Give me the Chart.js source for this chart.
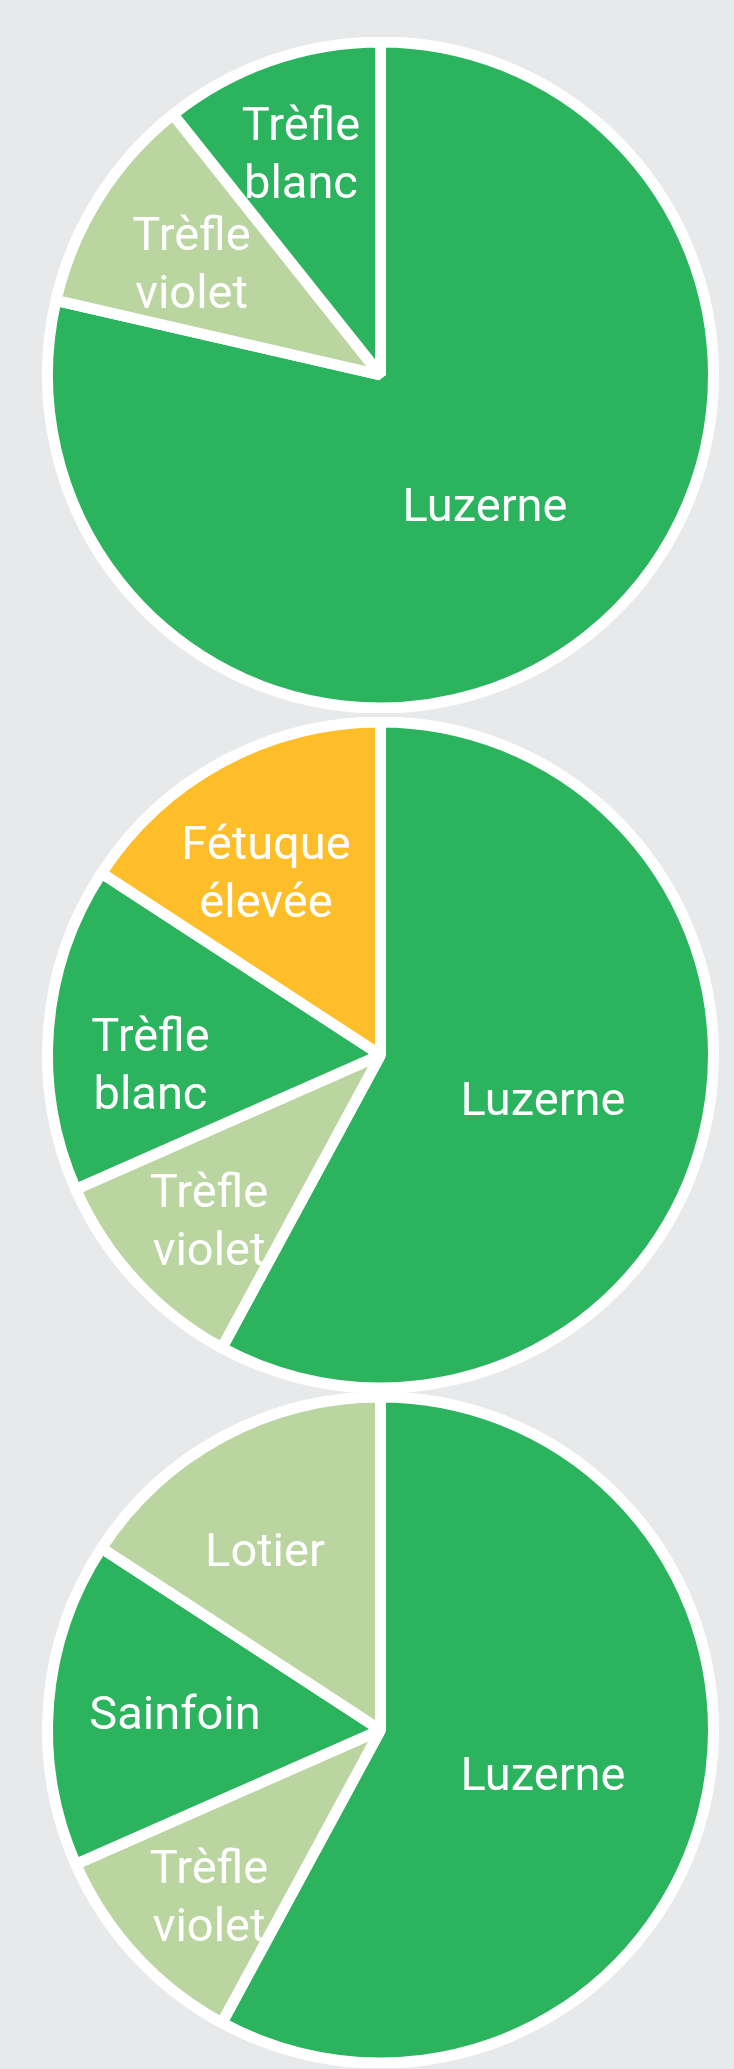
<!DOCTYPE html>
<html>
<head>
<meta charset="utf-8">
<script src="https://cdn.jsdelivr.net/npm/chart.js@4"></script>
<style>
html,body{margin:0;padding:0;background:#e8e9ea;width:734px;height:2069px;overflow:hidden;position:relative;}
.pie{position:absolute;left:21px;}
</style>
</head>
<body>
<canvas id="c1" class="pie" width="719" height="676" style="top:37px"></canvas>
<canvas id="c2" class="pie" width="719" height="676" style="top:717px"></canvas>
<canvas id="c3" class="pie" width="719" height="676" style="top:1392px"></canvas>
<script>
// ---- data ----
const categories1 = ['Luzerne', 'Trèfle violet', 'Trèfle blanc'];
const values1 = [78.6, 10.7, 10.7];

const categories2 = ['Luzerne', 'Trèfle violet', 'Trèfle blanc', 'Fétuque élevée'];
const values2 = [57.9, 10.5, 15.8, 15.8];

const categories3 = ['Luzerne', 'Trèfle violet', 'Sainfoin', 'Lotier'];
const values3 = [57.9, 10.5, 15.8, 15.8];

// ---- styles ----
const GREEN = '#2bb35e', LIGHT = '#bad5a0', YELLOW = '#fdbe2a';
const colors1 = [GREEN, LIGHT, GREEN];
const colors2 = [GREEN, LIGHT, GREEN, YELLOW];
const colors3 = [GREEN, LIGHT, GREEN, LIGHT];

// label anchor offsets (from pie centre, first-line baseline)
const labelPos1 = [[104.5, 146.2], [-189, -125.3], [-79.5, -235.2]];
const labelPos2 = [[162.5, 60], [-171.5, 151.7], [-230, -3.7], [-114.5, -195.6]];
const labelPos3 = [[162.5, 60.3], [-171.5, 152.5], [-205.5, -1.2], [-115.5, -163.8]];

const sliceLabels = {
  id: 'sliceLabels',
  afterDatasetsDraw(chart, args, opts) {
    const ctx = chart.ctx;
    const meta = chart.getDatasetMeta(0);
    const cx = meta.data[0].x, cy = meta.data[0].y;
    ctx.save();
    ctx.fillStyle = '#ffffff';
    ctx.font = '400 47px Roboto';
    ctx.textAlign = 'center';
    ctx.textBaseline = 'alphabetic';
    chart.data.labels.forEach((lab, i) => {
      const p = opts.pos[i];
      lab.split(' ').forEach((line, j) => {
        ctx.fillText(line, cx + p[0], cy + p[1] + j * 58);
      });
    });
    ctx.restore();
  }
};

function makePie(id, labels, values, colors, pos) {
  return new Chart(document.getElementById(id), {
    type: 'pie',
    data: {
      labels: labels,
      datasets: [{
        data: values,
        backgroundColor: colors,
        borderColor: '#ffffff',
        borderWidth: 11,
        hoverOffset: 0
      }]
    },
    options: {
      responsive: false,
      animation: false,
      radius: 333,
      layout: { padding: 0 },
      plugins: {
        legend: { display: false },
        tooltip: { enabled: false },
        sliceLabels: { pos: pos }
      },
      events: []
    },
    plugins: [sliceLabels]
  });
}

function go() {
  makePie('c1', categories1, values1, colors1, labelPos1);
  makePie('c2', categories2, values2, colors2, labelPos2);
  makePie('c3', categories3, values3, colors3, labelPos3);
}
if (document.fonts && document.fonts.load) {
  document.fonts.load('400 47px Roboto').then(go, go);
} else { go(); }
</script>
</body>
</html>
